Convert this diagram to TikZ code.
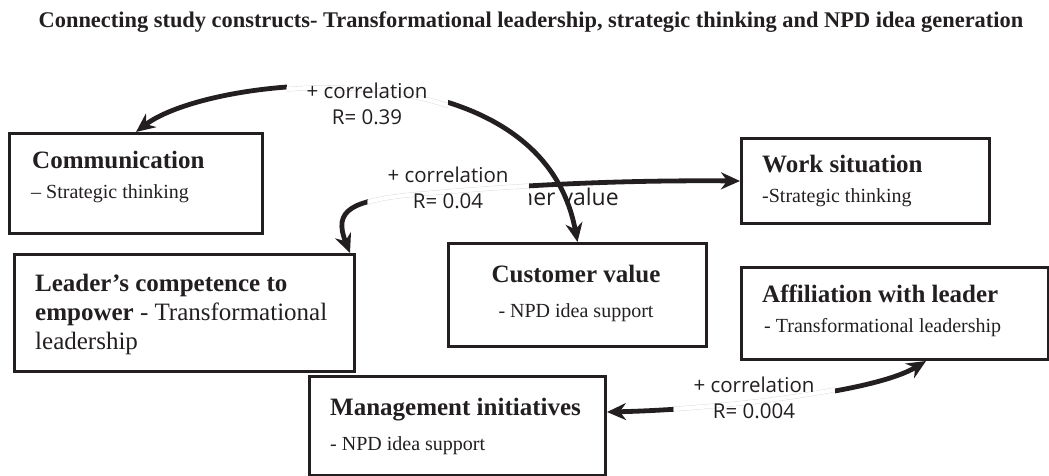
\documentclass[tikz,border=0pt]{standalone}
\usepackage{fontspec}
\setmainfont{Liberation Serif}
\newfontfamily\corrfont{Open Sans}
\usepackage{xcolor}
\usetikzlibrary{arrows.meta, positioning, calc}
\definecolor{inkgray}{HTML}{231F20}

\tikzset{
  construct/.style={draw=inkgray, line width=3pt, rectangle, inner sep=0pt, anchor=north west},
  headtxt/.style={anchor=base west, inner sep=0pt, text=inkgray, font=\fontsize{25}{30}\selectfont\bfseries},
  bodytxt/.style={anchor=base west, inner sep=0pt, text=inkgray, font=\fontsize{25}{30}\selectfont},
  subtxt/.style={anchor=base west, inner sep=0pt, text=inkgray, font=\fontsize{20}{24}\selectfont},
  corr/.style={line width=4.8pt, draw=inkgray, {Stealth[length=19pt,width=17pt]}-{Stealth[length=19pt,width=17pt]}},
  ghost/.style={draw=gray!30, line width=0.4pt, double=white, double distance=4pt},
  corrlbl/.style={fill=white, align=center, inner xsep=20pt, inner ysep=3pt, text=inkgray, font=\corrfont\fontsize{20.5}{26}\selectfont},
}

\begin{document}
\begin{tikzpicture}[x=1pt, y=-1pt]
  \useasboundingbox (0,0) rectangle (1049,476);

  \node[anchor=base, inner sep=0pt, text=inkgray, font=\fontsize{22.4}{27}\selectfont\bfseries] (title) at (531,28)
    {Connecting study constructs- Transformational leadership, strategic thinking and NPD idea generation};

  % construct boxes
  \node[construct, minimum width=253pt, minimum height=100pt] (comm) at (8,132) {};
  \node[construct, minimum width=248pt, minimum height=85pt] (work) at (740,137) {};
  \node[construct, minimum width=340pt, minimum height=117pt] (leader) at (13,253) {};
  \node[construct, minimum width=258pt, minimum height=103pt] (cust) at (447,242) {};
  \node[construct, minimum width=307pt, minimum height=92pt] (affil) at (740,266) {};
  \node[construct, minimum width=296pt, minimum height=99pt] (mgmt) at (308,375) {};

  % box texts
  \node[headtxt] (commhead) at (32,168) {Communication};
  \node[subtxt] (commsub) at (31,198) {-- Strategic thinking};
  \node[headtxt] (workhead) at (762,172) {Work situation};
  \node[subtxt] (worksub) at (762,202) {-Strategic thinking};
  \node[headtxt] (leadhead) at (35,291) {Leader's competence to};
  \node[bodytxt] (leadmid) at (35,320) {\textbf{empower} - Transformational};
  \node[bodytxt] (leadend) at (35,349) {leadership};
  \node[headtxt, anchor=base] (custhead) at (576,282) {Customer value};
  \node[subtxt, anchor=base] (custsub) at (576,317) {- NPD idea support};
  \node[headtxt] (affilhead) at (762,302) {Affiliation with leader};
  \node[subtxt] (affilsub) at (764,332) {- Transformational leadership};
  \node[headtxt] (mgmthead) at (330,415) {Management initiatives};
  \node[subtxt] (mgmtsub) at (330,450) {- NPD idea support};

  % correlations
  \coordinate (a1) at (210,75);  \coordinate (a2) at (540,40);
  \coordinate (b1) at (333,210); \coordinate (b2) at (350,200); \coordinate (bm) at (420,194);
  \coordinate (b3) at (520,185); \coordinate (b4) at (620,180);
  \coordinate (c1) at (700,410); \coordinate (c2) at (870,395);
  \coordinate (leadtip) at ([xshift=-6pt]leader.north east);
  \coordinate (mgmttip) at ([yshift=14pt]mgmt.east);
  \coordinate (affiltip) at ([xshift=31pt]affil.south);

  \draw[corr] (comm.north) .. controls (a1) and (a2) .. (cust.north);
  \draw[corr] (leadtip) .. controls (b1) and (b2) .. (bm) .. controls (b3) and (b4) .. (work.west);
  \draw[corr] (mgmttip) .. controls (c1) and (c2) .. (affiltip);

  \begin{scope}
    \clip (528,180) rectangle (640,215);
    \node[anchor=base west, inner sep=0pt, text=inkgray, font=\corrfont\fontsize{23}{27}\selectfont] (stray) at (519,205) {ner value};
  \end{scope}

  \node[corrlbl, path picture={\draw[ghost] (comm.north) .. controls (a1) and (a2) .. (cust.north);}]
    (corrA) at (367,104) {+ correlation\\R= 0.39};
  \node[corrlbl, path picture={\draw[ghost] (leadtip) .. controls (b1) and (b2) .. (bm) .. controls (b3) and (b4) .. (work.west);}]
    (corrB) at (448,188) {+ correlation\\R= 0.04};
  \node[corrlbl, path picture={\draw[ghost] (mgmttip) .. controls (c1) and (c2) .. (affiltip);}]
    (corrC) at (754,398) {+ correlation\\R= 0.004};
\end{tikzpicture}
\end{document}
